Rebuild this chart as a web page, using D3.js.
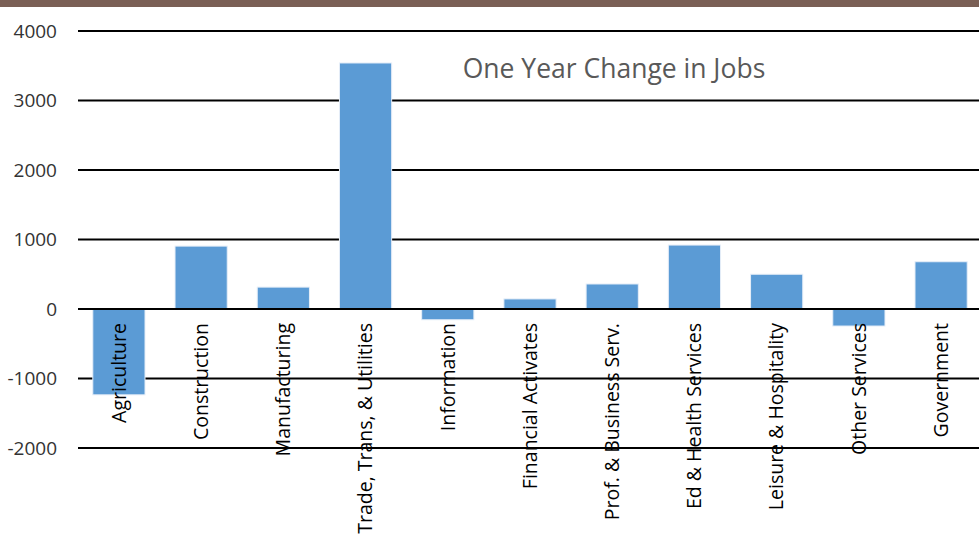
<!DOCTYPE html>
<html>
<head>
<meta charset="utf-8">
<script src="https://cdn.jsdelivr.net/npm/d3@7"></script>
<style>
  html, body { margin: 0; padding: 0; background: #fff; }
  svg { display: block; }
</style>
</head>
<body>
<svg id="chart" width="979" height="535"></svg>
<script>
// Sectors and their one-year change in employment
const categories = [
  "Agriculture", "Construction", "Manufacturing", "Trade, Trans, & Utilities",
  "Information", "Financial Activates", "Prof. & Business Serv.",
  "Ed & Health Services", "Leisure & Hospitality", "Other Services", "Government"
];
const jobChange = [-1235, 905, 315, 3540, -155, 145, 360, 920, 500, -245, 680];
const yTicks = [-2000, -1000, 0, 1000, 2000, 3000, 4000];
const chartTitle = "One Year Change in Jobs";

const W = 979, H = 535;
const svg = d3.select("#chart");
const font = "'Open Sans', sans-serif";

// Decorative band across the top
svg.append("rect").attr("x", 0).attr("y", 0).attr("width", W).attr("height", 7)
  .attr("fill", "#7a5f55");

const y = d3.scaleLinear().domain([-2000, 4000]).range([448, 31]);
const x = d3.scaleBand().domain(categories).range([78, 982])
  .paddingInner(0.365).paddingOuter(0.18);

// Horizontal gridlines
svg.append("g").selectAll("line").data(yTicks.filter(t => t !== 0)).join("line")
  .attr("x1", 78).attr("x2", W)
  .attr("y1", d => y(d)).attr("y2", d => y(d))
  .attr("stroke", "#000").attr("stroke-width", 2);

// Value axis labels
svg.append("g").selectAll("text").data(yTicks).join("text")
  .attr("x", 57).attr("y", d => y(d)).attr("dy", "0.35em")
  .attr("text-anchor", "end")
  .attr("font-family", font).attr("font-size", 19).attr("fill", "#333")
  .text(d => d);

// Bars
svg.append("g").selectAll("rect").data(categories).join("rect")
  .attr("x", d => x(d))
  .attr("width", x.bandwidth())
  .attr("y", (d, i) => y(Math.max(0, jobChange[i])))
  .attr("height", (d, i) => Math.abs(y(jobChange[i]) - y(0)))
  .attr("fill", "#5b9bd5")
  .attr("stroke", "#e6eef8").attr("stroke-width", 1);

// Zero line
svg.append("line").attr("x1", 78).attr("x2", W)
  .attr("y1", y(0)).attr("y2", y(0))
  .attr("stroke", "#000").attr("stroke-width", 2);

// Category labels, rotated, hanging just below the zero line
svg.append("g").selectAll("text").data(categories).join("text")
  .attr("transform", d => `translate(${x(d) + x.bandwidth() / 2},${y(0) + 14}) rotate(-90)`)
  .attr("dy", "0.35em")
  .attr("text-anchor", "end")
  .attr("font-family", font).attr("font-size", 19.5).attr("fill", "#000")
  .text(d => d);

// Title
svg.append("text").attr("x", 614).attr("y", 78)
  .attr("text-anchor", "middle")
  .attr("font-family", font).attr("font-size", 26.5).attr("fill", "#595959")
  .text(chartTitle);
</script>
</body>
</html>
